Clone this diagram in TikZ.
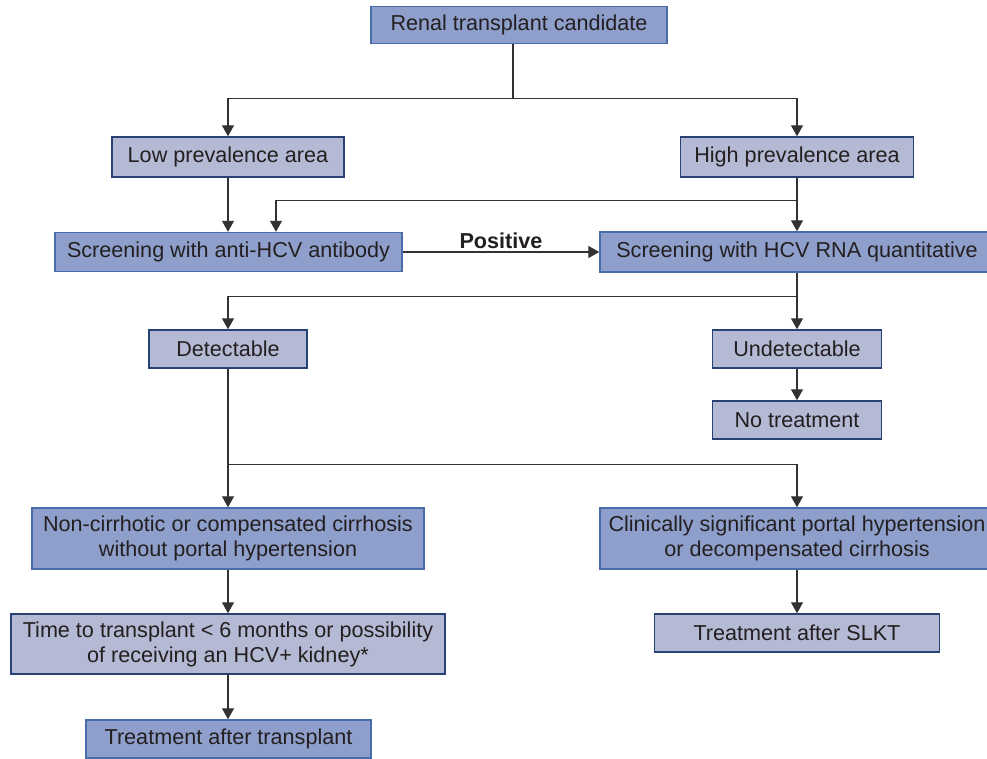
\documentclass[tikz,border=0pt]{standalone}
\usepackage{fontspec}
\setmainfont{Liberation Sans}
\usetikzlibrary{arrows.meta, positioning}
\definecolor{darkfill}{RGB}{143,159,203}
\definecolor{darkedge}{RGB}{72,108,172}
\definecolor{lightfill}{RGB}{181,186,212}
\definecolor{lightedge}{RGB}{40,66,120}
\definecolor{textgray}{RGB}{35,31,32}
\definecolor{linegray}{RGB}{50,50,50}

\begin{document}
\begin{tikzpicture}[
  x=1pt, y=-1pt,
  every node/.style={font=\fontsize{21.6}{25}\selectfont, text=textgray},
  darkbox/.style={rectangle, draw=darkedge, fill=darkfill, line width=1.5pt,
                  align=center, inner sep=0pt},
  lightbox/.style={rectangle, draw=lightedge, fill=lightfill, line width=1.5pt,
                   align=center, inner sep=0pt},
  flow/.style={draw=linegray, line width=1.4pt, -{Triangle[length=11pt, width=12pt]}},
  edge label/.style={font=\fontsize{21.6}{25}\selectfont\bfseries, midway, above,
                     inner sep=3pt}
]
  \useasboundingbox (0,0) rectangle (987,758);

  \node[darkbox, minimum width=296pt, minimum height=37pt] (cand) at (519,25) {Renal transplant candidate};
  \node[lightbox, minimum width=232pt, minimum height=40pt] (low) at (228,157) {Low prevalence area};
  \node[lightbox, minimum width=233pt, minimum height=40pt] (high) at (797,157) {High prevalence area};
  \node[darkbox, minimum width=347pt, minimum height=39pt] (antibody) at (228.5,252) {Screening with anti-HCV antibody};
  \node[darkbox, minimum width=394pt, minimum height=40pt] (rna) at (797,252) {Screening with HCV RNA quantitative};
  \node[lightbox, minimum width=158pt, minimum height=38pt] (detect) at (228,349) {Detectable};
  \node[lightbox, minimum width=169pt, minimum height=38pt] (undetect) at (797,349) {Undetectable};
  \node[lightbox, minimum width=169pt, minimum height=38pt] (notreat) at (797,420) {No treatment};
  \node[darkbox, minimum width=392pt, minimum height=61pt] (noncirr) at (228,538.5)
    {Non-cirrhotic or compensated cirrhosis\\without portal hypertension};
  \node[darkbox, minimum width=394pt, minimum height=61pt] (portal) at (797,538.5)
    {Clinically significant portal hypertension\\or decompensated cirrhosis};
  \node[lightbox, minimum width=434pt, minimum height=60pt] (waittime) at (228,644)
    {Time to transplant < 6 months or possibility\\of receiving an HCV+ kidney*};
  \node[lightbox, minimum width=285pt, minimum height=38pt] (slkt) at (797,633) {Treatment after SLKT};
  \node[darkbox, minimum width=285pt, minimum height=38pt] (aftertx) at (228.5,739) {Treatment after transplant};

  % prevalence split
  \draw[flow] ([xshift=-6pt]cand.south) -- ++(0,54) -| (low.north);
  \draw[flow] ([xshift=-6pt]cand.south) -- ++(0,54) -| (high.north);
  \draw[flow] (low.south) -- (low.south |- antibody.north);
  \draw[flow] (high.south) -- (rna.north);
  \draw[flow] (high.south) -- ++(0,23) -| ([xshift=47.5pt]antibody.north);
  \draw[flow] (antibody.east) -- node[edge label]{Positive} (rna.west);

  % RNA result
  \draw[flow] (rna.south) -- ++(0,24) -| (detect.north);
  \draw[flow] (rna.south) -- (undetect.north);
  \draw[flow] (undetect.south) -- (notreat.north);

  % liver status
  \draw[flow] (detect.south) -- (noncirr.north);
  \draw[flow] (detect.south) -- ++(0,96) -| (portal.north);
  \draw[flow] (noncirr.south) -- (waittime.north);
  \draw[flow] (waittime.south) -- (waittime.south |- aftertx.north);
  \draw[flow] (portal.south) -- (slkt.north);
\end{tikzpicture}
\end{document}
